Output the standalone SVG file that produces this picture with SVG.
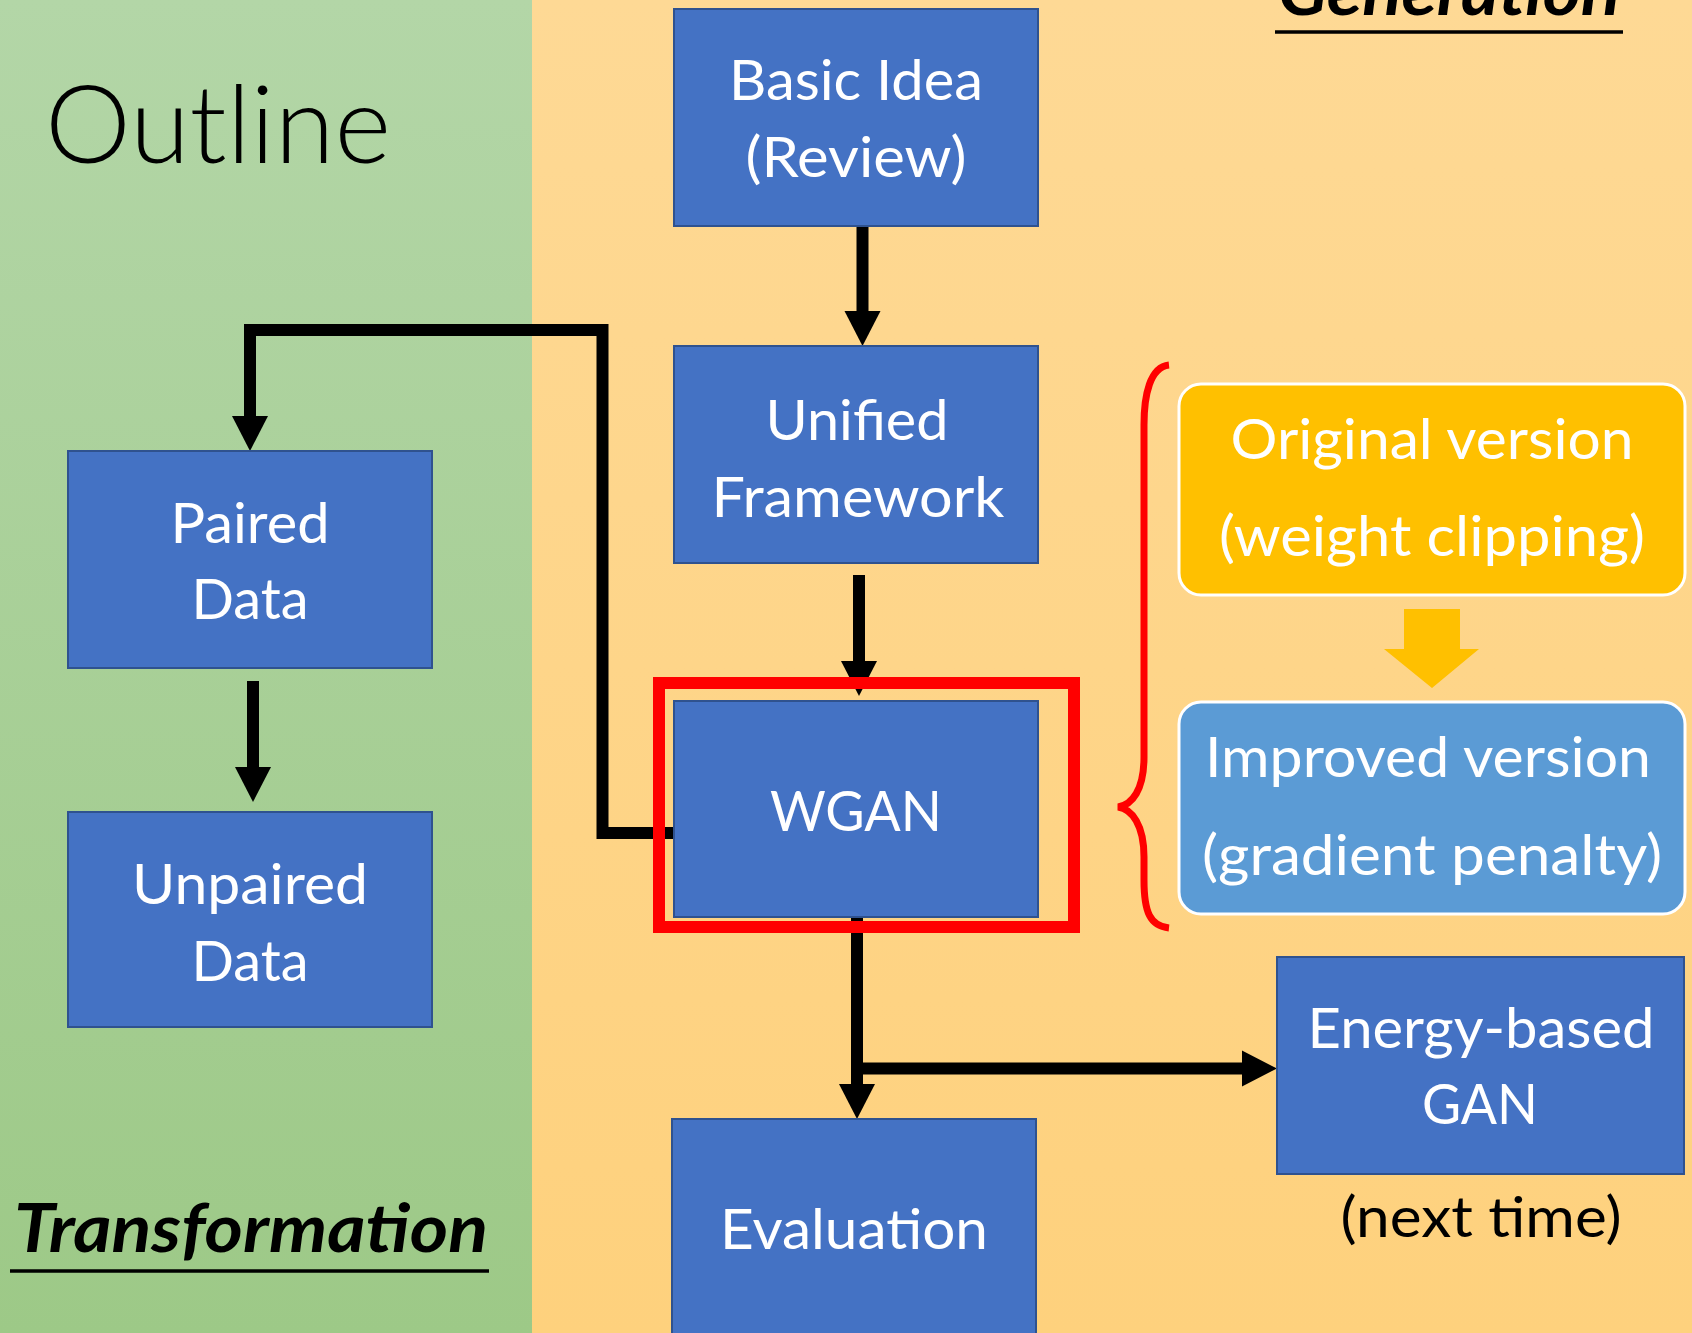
<svg xmlns="http://www.w3.org/2000/svg" width="1692" height="1333" viewBox="0 0 1692 1333">
  <defs>
    <linearGradient id="greenPanel" x1="0" y1="0" x2="0" y2="1">
      <stop offset="0" stop-color="#b3d6a7"/>
      <stop offset="1" stop-color="#9dc987"/>
    </linearGradient>
    <linearGradient id="orangePanel" x1="0" y1="0" x2="0" y2="1">
      <stop offset="0" stop-color="#fed995"/>
      <stop offset="1" stop-color="#fed17d"/>
    </linearGradient>
    <marker id="head" markerUnits="userSpaceOnUse" markerWidth="36" markerHeight="36" refX="0" refY="18" orient="auto" overflow="visible">
      <path d="M0,0 L35,18 L0,36 Z" fill="#000"/>
    </marker>
    <style>
      .node rect.box { fill: #4472c4; stroke: #2f528f; stroke-width: 2; }
      .label { font-family: Lato, "Liberation Sans", sans-serif; font-size: 57px; fill: #fff; text-anchor: middle; }
      .dark { fill: #000; }
      .title { font-family: Lato, "Liberation Sans", sans-serif; font-weight: 300; font-size: 108px; fill: #000; }
      .section { font-family: Lato, "Liberation Sans", sans-serif; font-weight: bold; font-style: italic; font-size: 66px; fill: #000; }
      .rule { stroke: #000; stroke-width: 3.5; }
      .conn { fill: none; stroke: #000; stroke-width: 12; stroke-linejoin: miter; }
      .arrow { marker-end: url(#head); }
    </style>
  </defs>

  <!-- two background panels -->
  <rect x="0" y="0" width="532" height="1333" fill="url(#greenPanel)"/>
  <rect x="532" y="0" width="1160" height="1333" fill="url(#orangePanel)"/>

  <!-- headings -->
  <text class="title" x="45" y="163" textLength="346" lengthAdjust="spacingAndGlyphs">Outline</text>
  <text class="section" x="14" y="1252" textLength="474" lengthAdjust="spacingAndGlyphs">Transformation</text>
  <line class="rule" x1="10" y1="1271" x2="489" y2="1271"/>
  <text class="section" x="1278" y="15" textLength="342" lengthAdjust="spacingAndGlyphs">Generation</text>
  <line class="rule" x1="1275" y1="32" x2="1623" y2="32"/>

  <!-- connectors -->
  <g id="connectors">
    <path class="conn arrow" d="M862.5,226 V311"/>
    <path class="conn arrow" d="M859,575 V661"/>
    <path class="conn arrow" d="M674,833 H602.5 V330 H250 V416"/>
    <path class="conn arrow" d="M253,681 V767"/>
    <path class="conn arrow" d="M857,917 V1084"/>
    <path class="conn arrow" d="M857,1068.5 H1242"/>
  </g>

  <!-- nodes -->
  <g id="basic-idea" class="node">
    <rect class="box" x="674" y="9" width="364" height="217"/>
    <text class="label" x="856" y="100" textLength="254" lengthAdjust="spacingAndGlyphs">Basic Idea</text>
    <text class="label" x="856" y="177" textLength="221" lengthAdjust="spacingAndGlyphs">(Review)</text>
  </g>
  <g id="unified-framework" class="node">
    <rect class="box" x="674" y="346" width="364" height="217"/>
    <text class="label" x="857" y="440" textLength="183" lengthAdjust="spacingAndGlyphs">Unified</text>
    <text class="label" x="858" y="517" textLength="293" lengthAdjust="spacingAndGlyphs">Framework</text>
  </g>
  <g id="wgan" class="node">
    <rect class="box" x="674" y="701" width="364" height="216"/>
    <text class="label" x="856" y="831" textLength="172" lengthAdjust="spacingAndGlyphs">WGAN</text>
  </g>
  <g id="paired-data" class="node">
    <rect class="box" x="68" y="451" width="364" height="217"/>
    <text class="label" x="250" y="543" textLength="159" lengthAdjust="spacingAndGlyphs">Paired</text>
    <text class="label" x="250" y="619" textLength="117" lengthAdjust="spacingAndGlyphs">Data</text>
  </g>
  <g id="unpaired-data" class="node">
    <rect class="box" x="68" y="812" width="364" height="215"/>
    <text class="label" x="250" y="904" textLength="236" lengthAdjust="spacingAndGlyphs">Unpaired</text>
    <text class="label" x="250" y="981" textLength="117" lengthAdjust="spacingAndGlyphs">Data</text>
  </g>
  <g id="evaluation" class="node">
    <rect class="box" x="672" y="1119" width="364" height="216"/>
    <text class="label" x="854" y="1249" textLength="268" lengthAdjust="spacingAndGlyphs">Evaluation</text>
  </g>
  <g id="energy-based-gan" class="node">
    <rect class="box" x="1277" y="957" width="407" height="217"/>
    <text class="label" x="1481" y="1048" textLength="347" lengthAdjust="spacingAndGlyphs">Energy-based</text>
    <text class="label" x="1480" y="1124" textLength="116" lengthAdjust="spacingAndGlyphs">GAN</text>
    <text class="label dark" x="1481" y="1237" textLength="281" lengthAdjust="spacingAndGlyphs">(next time)</text>
  </g>

  <!-- WGAN variants -->
  <g id="original-version" class="node">
    <rect x="1179" y="384" width="506" height="211" rx="22" fill="#ffc000" stroke="#fff" stroke-width="3"/>
    <text class="label" x="1432" y="459" textLength="403" lengthAdjust="spacingAndGlyphs">Original version</text>
    <text class="label" x="1432" y="556" textLength="426" lengthAdjust="spacingAndGlyphs">(weight clipping)</text>
  </g>
  <g id="improved-version" class="node">
    <rect x="1179" y="702" width="506" height="212" rx="22" fill="#5b9bd5" stroke="#fff" stroke-width="3"/>
    <text class="label" x="1428" y="777" textLength="446" lengthAdjust="spacingAndGlyphs">Improved version</text>
    <text class="label" x="1432" y="875" textLength="460" lengthAdjust="spacingAndGlyphs">(gradient penalty)</text>
  </g>
  <polygon id="version-step" points="1404,609 1460,609 1460,649 1479,649 1432,688 1384,649 1404,649" fill="#ffc000"/>

  <!-- highlight frame and brace -->
  <rect x="659" y="683" width="415" height="244" fill="none" stroke="#ff0000" stroke-width="12"/>
  <path d="M1169,365 C1150,367 1144,395 1144,425 L1144,757 C1144,790 1132,805 1118,807 C1132,809 1144,825 1144,857 L1144,880 C1144,912 1150,926 1169,928" fill="none" stroke="#ff0000" stroke-width="7"/>
</svg>
